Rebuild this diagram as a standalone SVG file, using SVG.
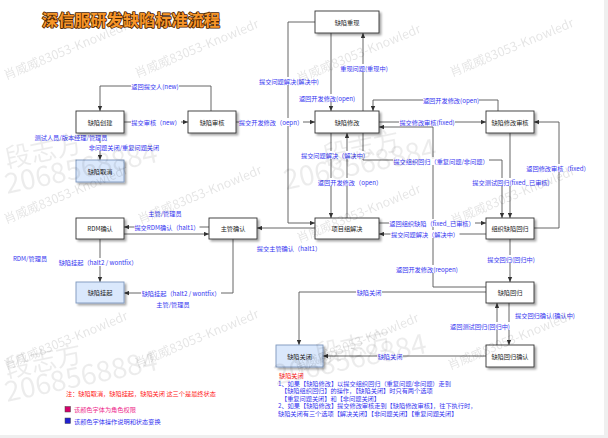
<svg xmlns="http://www.w3.org/2000/svg" width="608" height="438" viewBox="0 0 608 438">
<defs>
<marker id="arr" viewBox="0 0 6 6" refX="6" refY="3" markerWidth="5" markerHeight="5" orient="auto" markerUnits="userSpaceOnUse">
<path d="M0,0.4 L6,3 L0,5.6 z" fill="#333"/>
</marker>
<filter id="sh" x="-20%" y="-20%" width="150%" height="160%">
<feGaussianBlur in="SourceAlpha" stdDeviation="0.8"/>
<feOffset dx="1.8" dy="1.8" result="b"/>
<feComponentTransfer><feFuncA type="linear" slope="0.35"/></feComponentTransfer>
<feMerge><feMergeNode/><feMergeNode in="SourceGraphic"/></feMerge>
</filter>
</defs>
<style>
text{font-family:"Noto Sans CJK SC","Noto Sans",sans-serif;font-size:6.2px;dominant-baseline:central}
.node rect{fill:#fff;stroke:#333;stroke-width:0.9;filter:url(#sh)}
.node.blue rect{fill:#dae8fc;stroke:#7d98bd}
.node text{text-anchor:middle;fill:#222}
.e{fill:none;stroke:#555;stroke-width:0.9;marker-end:url(#arr)}
.lb rect{fill:#fff}
.lb text{text-anchor:middle;fill:#3535f0}
.pk{fill:#ee2a8c}
.bl{fill:#3535f0}
.rd{fill:#ff2020}
.wm{fill:#000;opacity:0.1;font-size:12.5px;dominant-baseline:auto}
.wb{fill:#000;opacity:0.07;dominant-baseline:auto}
</style>
<rect x="0" y="0" width="608" height="438" fill="#fff"/>
<rect x="604" y="0" width="4" height="438" fill="#efefef"/>
<rect x="0" y="435" width="608" height="3" fill="#efefef"/>

<text x="42" y="19" style="font-size:16.2px;font-weight:bold;fill:#f7962a;stroke:#4a2400;stroke-width:1.6px;paint-order:stroke;stroke-linejoin:round">深信服研发缺陷标准流程</text>

<g id="connectors">
<path class="e" d="M211,111 V86 H100 V111"/>
<path class="e" d="M124,122 H188"/>
<path class="e" d="M236,122 H315"/>
<path class="e" d="M315,22 H288 V223 H315"/>
<path class="e" d="M331,33 V111"/>
<path class="e" d="M363,111 V33"/>
<path class="e" d="M498,111 V100 H373 V111"/>
<path class="e" d="M379,122 H486"/>
<path class="e" d="M534,228 H559 V122 H534"/>
<path class="e" d="M510,133 V218"/>
<path class="e" d="M486,287 H433 V127 H379"/>
<path class="e" d="M363,133 V160 H502 V218"/>
<path class="e" d="M331,133 V218"/>
<path class="e" d="M347,218 V133"/>
<path class="e" d="M379,223 H486"/>
<path class="e" d="M486,234 H379"/>
<path class="e" d="M315,228 H257"/>
<path class="e" d="M209,227 H124"/>
<path class="e" d="M124,234 H209"/>
<path class="e" d="M100,239 V282"/>
<path class="e" d="M233,239 V293 H124"/>
<path class="e" d="M100,133 V160"/>
<path class="e" d="M486,292 H299 V345"/>
<path class="e" d="M510,239 V282"/>
<path class="e" d="M509,303 V345"/>
<path class="e" d="M497,345 V303"/>
<path class="e" d="M486,356 H323"/>

<g class="lb">
<rect x="131" y="82" width="48" height="8"/><text x="155" y="86">返回提交人(new)</text>
<rect x="131" y="118" width="50" height="8"/><text x="156" y="122">提交审核（new）</text>
<rect x="239" y="118" width="64" height="8"/><text x="271" y="122">提交开发修改（oepn）</text>
<rect x="258.5" y="77" width="61" height="8"/><text x="289" y="81">提交问题解决(解决中)</text>
<rect x="299" y="94" width="56" height="8"/><text x="327" y="98">返回开发修改(open)</text>
<rect x="339.5" y="64" width="49" height="8"/><text x="364" y="68">重现问题(重现中)</text>
<rect x="423" y="96" width="56" height="8"/><text x="451" y="100">返回开发修改(open)</text>
<rect x="399" y="118" width="56" height="8"/><text x="427" y="122">提交修改审核(fixed)</text>
<rect x="526" y="164" width="64" height="8"/><text x="558" y="168">返回修改审核（fixed）</text>
<rect x="472" y="178" width="78" height="8"/><text x="511" y="182">提交测试回归(fixed_已审核)</text>
<rect x="395.5" y="265" width="63" height="8"/><text x="427" y="269">返回开发修改(reopen)</text>
<rect x="393" y="157" width="96" height="8"/><text x="441" y="161">提交组织回归（重复问题/非问题）</text>
<rect x="300.5" y="151" width="69" height="8"/><text x="335" y="155">提交问题解决（解决中）</text>
<rect x="318" y="178" width="64" height="8"/><text x="350" y="182">返回开发修改（open）</text>
<rect x="389" y="219" width="86" height="8"/><text x="432" y="223">返回组织缺陷（fixed_已审核）</text>
<rect x="390.5" y="230" width="69" height="8"/><text x="425" y="234">提交问题解决（解决中）</text>
<text x="289" y="248">提交主管确认（halt1）</text>
<rect x="134.5" y="223" width="65" height="8"/><text x="167" y="227">提交RDM确认（halt1）</text>
<rect x="58" y="258" width="80" height="8"/><text x="98" y="262">缺陷挂起（halt2 / wontfix）</text>
<rect x="141" y="289" width="80" height="8"/><text x="181" y="293">缺陷挂起（halt2 / wontfix）</text>
<rect x="88" y="143" width="72" height="8"/><text x="124" y="147">非问题关闭/重复问题关闭</text>
<rect x="34" y="133" width="74" height="8"/><text x="71" y="137" class="pk">测试人员/版本经理/管理员</text>
<text x="165" y="213" class="pk">主管/管理员</text>
<text x="30" y="258" class="pk">RDM/管理员</text>
<text x="173" y="304" class="pk">主管/管理员</text>
<rect x="356" y="288" width="26" height="8"/><text x="369" y="292">缺陷关闭</text>
<rect x="487" y="255" width="48" height="8"/><text x="511" y="259">提交回归(回归中)</text>
<text x="545" y="315">提交回归确认(确认中)</text>
<rect x="449.5" y="322" width="61" height="8"/><text x="480" y="326">返回测试回归(回归中)</text>
<rect x="377" y="352" width="26" height="8"/><text x="390" y="356">缺陷关闭</text>
</g>
</g>

<g id="n-create" class="node"><rect x="76" y="111" width="48" height="22"/><text x="100" y="122">缺陷创建</text></g>
<g id="n-audit" class="node"><rect x="188" y="111" width="48" height="22"/><text x="212" y="122">缺陷审核</text></g>
<g id="n-reproduce" class="node"><rect x="315" y="11" width="64" height="22"/><text x="347" y="22">缺陷重现</text></g>
<g id="n-modify" class="node"><rect x="315" y="111" width="64" height="22"/><text x="347" y="122">缺陷修改</text></g>
<g id="n-modaudit" class="node"><rect x="486" y="111" width="48" height="22"/><text x="510" y="122">缺陷修改审核</text></g>
<g id="n-cancel" class="node blue"><rect x="76" y="160" width="48" height="22"/><text x="100" y="171">缺陷取消</text></g>
<g id="n-rdm" class="node"><rect x="76" y="218" width="48" height="21"/><text x="100" y="228.5">RDM确认</text></g>
<g id="n-manager" class="node"><rect x="209" y="218" width="48" height="21"/><text x="233" y="228.5">主管确认</text></g>
<g id="n-hold" class="node blue"><rect x="76" y="282" width="48" height="21"/><text x="100" y="292.5">缺陷挂起</text></g>
<g id="n-team" class="node"><rect x="315" y="218" width="64" height="21"/><text x="347" y="228.5">项目组解决</text></g>
<g id="n-org" class="node"><rect x="486" y="218" width="48" height="21"/><text x="510" y="228.5">组织缺陷回归</text></g>
<g id="n-regress" class="node"><rect x="486" y="282" width="48" height="21"/><text x="510" y="292.5">缺陷回归</text></g>
<g id="n-regconfirm" class="node"><rect x="486" y="345" width="48" height="22"/><text x="510" y="356">缺陷回归确认</text></g>
<g id="n-closed" class="node blue"><rect x="276" y="345" width="47" height="22"/><text x="299.5" y="356">缺陷关闭</text></g>

<g id="notes">
<text x="279" y="375" class="rd">缺陷关闭</text>
<text x="278" y="383" class="bl">1、如果【缺陷修改】以提交组织回归（重复问题/非问题）走到</text>
<text x="281" y="390.5" class="bl">【缺陷组织回归】的操作，【缺陷关闭】时只有两个选项</text>
<text x="281" y="398" class="bl">【重复问题关闭】和【非问题关闭】</text>
<text x="278" y="405.5" class="bl">2、如果【缺陷修改】提交修改审核走到【缺陷修改审核】，往下执行时，</text>
<text x="278" y="413" class="bl">缺陷关闭有三个选项【解决关闭】【非问题关闭】【重复问题关闭】</text>
<text x="66" y="393" class="rd">注：缺陷取消，缺陷挂起，缺陷关闭 这三个是最终状态</text>
<rect x="65" y="406.5" width="5.5" height="5.5" fill="#d4006a" stroke="#444" stroke-width="0.5"/>
<text x="74" y="409.5" class="pk">该颜色字体为角色权限</text>
<rect x="65" y="418" width="5.5" height="5.5" fill="#2020d0" stroke="#444" stroke-width="0.5"/>
<text x="74" y="421" class="bl">该颜色字体操作说明和状态变换</text>
</g>

<g id="watermarks">
<text class="wm" transform="translate(6,80) rotate(-22.5)">肖威威83053-Knowledr</text>
<text class="wm" transform="translate(137,78) rotate(-22.5)">肖威威83053-Knowledr</text>
<text class="wm" transform="translate(299,83) rotate(-22.5)">肖威威83053-Knowledr</text>
<text class="wm" transform="translate(452,77) rotate(-22.5)">肖威威83053-Knowledr</text>
<text class="wm" transform="translate(6,224) rotate(-22.5)">肖威威83053-Knowledr</text>
<text class="wm" transform="translate(140,224) rotate(-22.5)">肖威威83053-Knowledr</text>
<text class="wm" transform="translate(299,243) rotate(-22.5)">肖威威83053-Knowledr</text>
<text class="wm" transform="translate(453,225) rotate(-22.5)">肖威威83053-Knowledr</text>
<text class="wm" transform="translate(6,370) rotate(-22.5)">肖威威83053-Knowledr</text>
<text class="wm" transform="translate(137,368) rotate(-22.5)">肖威威83053-Knowledr</text>
<text class="wm" transform="translate(297,372) rotate(-22.5)">肖威威83053-Knowledr</text>
<text class="wm" transform="translate(450,370) rotate(-22.5)">肖威威83053-Knowledr</text>
<text class="wb" style="font-size:26px" transform="translate(7,168) rotate(-12)">段志方</text>
<text class="wb" style="font-size:28px" transform="translate(7,194) rotate(-12)">2068568884</text>
<text class="wb" style="font-size:26px" transform="translate(325,165) rotate(-12)">段志方</text>
<text class="wb" style="font-size:28px" transform="translate(286,190) rotate(-12)">2068568884</text>
<text class="wb" style="font-size:26px" transform="translate(7,378) rotate(-12)">段志方</text>
<text class="wb" style="font-size:28px" transform="translate(7,402) rotate(-12)">2068568884</text>
<text class="wb" style="font-size:26px" transform="translate(317,364) rotate(-12)">段志方</text>
<text class="wb" style="font-size:28px" transform="translate(276,385) rotate(-12)">2068568884</text>
</g>
</svg>
